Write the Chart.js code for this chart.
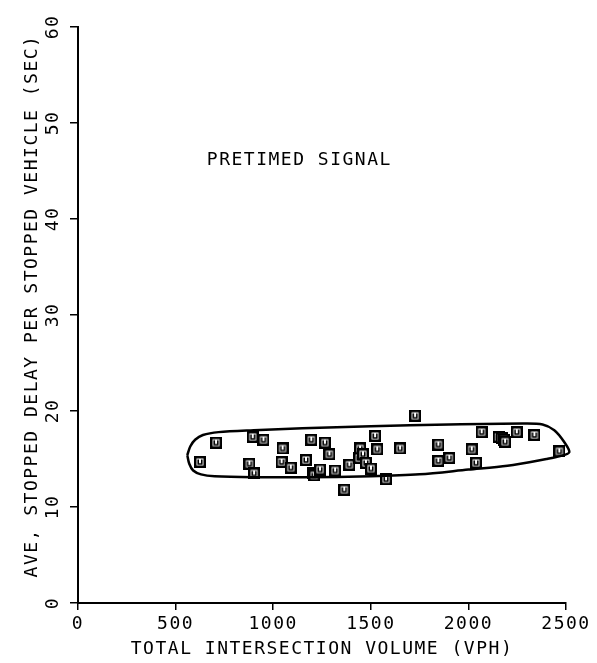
<!DOCTYPE html>
<html>
<head>
<meta charset="utf-8">
<script src="https://cdn.jsdelivr.net/npm/chart.js@4"></script>
<style>
  html, body { margin: 0; padding: 0; background: #fff; }
  #wrap { width: 597px; height: 663px; }
</style>
</head>
<body>
<div id="wrap"><canvas id="delayChart" width="597" height="663"></canvas></div>
<script>
// observed intersections (volume vph, stopped delay sec)
const volume = [625, 707, 878, 895, 902, 950, 1043, 1048, 1090, 1168, 1195, 1202, 1210, 1240, 1265, 1288, 1317,
  1364, 1390, 1441, 1445, 1460, 1475, 1501, 1522, 1533, 1578, 1650, 1727, 1846, 1846, 1902, 2017, 2039, 2068,
  2155, 2170, 2180, 2188, 2248, 2338, 2466];
const delay = [14.7, 16.7, 14.5, 17.3, 13.5, 17.0, 14.7, 16.1, 14.1, 14.9, 17.0, 13.5, 13.3, 13.9, 16.7, 15.5, 13.8,
  11.8, 14.4, 15.1, 16.1, 15.5, 14.6, 14.0, 17.4, 16.0, 12.9, 16.1, 19.5, 16.5, 14.8, 15.1, 16.0, 14.6, 17.8,
  17.3, 17.2, 17.0, 16.8, 17.8, 17.5, 15.8];

// hand drawn envelope round the points
const envX = [560, 575, 600, 640, 720, 900, 1150, 1500, 1900, 2280, 2380, 2440, 2490, 2517, 2470, 2400, 2200, 2000,
  1750, 1500, 1150, 900, 700, 630, 590, 570, 560];
const envY = [15.4, 16.3, 17.0, 17.5, 17.8, 18.0, 18.2, 18.4, 18.6, 18.7, 18.6, 18.0, 16.8, 15.7, 15.3, 15.0, 14.3, 13.9,
  13.4, 13.2, 13.1, 13.1, 13.2, 13.4, 13.8, 14.5, 15.4];

const xTicks = [0, 500, 1000, 1500, 2000, 2500];
const yTicks = [0, 10, 20, 30, 40, 50, 60];

const FONT = '"DejaVu Sans Mono", "Liberation Mono", monospace';

// square marker with a little U inside, like the plotter symbol
function makeMarker() {
  const c = document.createElement('canvas');
  c.width = 12; c.height = 12;
  const g = c.getContext('2d');
  g.fillStyle = '#fff';
  g.fillRect(0, 0, 12, 12);
  g.strokeStyle = '#000';
  g.lineWidth = 2.5;
  g.strokeRect(1.25, 1.25, 9.5, 9.5);
  g.lineWidth = 1.6;
  g.beginPath();
  g.moveTo(4.2, 3.5);
  g.lineTo(4.2, 8);
  g.lineTo(7.8, 8);
  g.lineTo(7.8, 3.5);
  g.stroke();
  return c;
}

const pts = volume.map((v, i) => ({ x: v, y: delay[i] }));
const env = envX.map((v, i) => ({ x: v, y: envY[i] }));

const textPlugin = {
  id: 'plotterText',
  beforeDraw(chart) {
    chart.ctx.letterSpacing = '1.5px';
  },
  afterDraw(chart) {
    const ctx = chart.ctx;
    const ys = chart.scales.y;
    const xs = chart.scales.x;
    ctx.save();
    ctx.letterSpacing = '1.5px';
    ctx.fillStyle = '#000';
    ctx.font = '18px ' + FONT;
    ctx.textAlign = 'center';
    ctx.textBaseline = 'middle';
    // rotated y tick labels
    yTicks.forEach(t => {
      ctx.save();
      ctx.translate(53, ys.getPixelForValue(t));
      ctx.rotate(-Math.PI / 2);
      ctx.fillText(String(t), 0, 0);
      ctx.restore();
    });
    // y title
    ctx.save();
    ctx.translate(32, 306);
    ctx.rotate(-Math.PI / 2);
    ctx.fillText('AVE, STOPPED DELAY PER STOPPED VEHICLE (SEC)', 0, 0);
    ctx.restore();
    // annotation
    ctx.textAlign = 'left';
    ctx.fillText('PRETIMED SIGNAL', xs.getPixelForValue(660), ys.getPixelForValue(46.1));
    ctx.restore();
  }
};

new Chart(document.getElementById('delayChart'), {
  type: 'scatter',
  data: {
    datasets: [
      {
        label: 'envelope',
        type: 'line',
        data: env,
        borderColor: '#000',
        borderWidth: 2.5,
        pointRadius: 0,
        tension: 0.3,
        fill: false,
        clip: false
      },
      {
        label: 'sites',
        data: pts,
        pointStyle: makeMarker(),
        pointRadius: 6
      }
    ]
  },
  options: {
    responsive: false,
    animation: false,
    events: [],
    layout: { padding: { left: 0, top: 27, right: 31, bottom: 0 } },
    plugins: { legend: { display: false }, tooltip: { enabled: false } },
    scales: {
      x: {
        type: 'linear',
        min: 0,
        max: 2500,
        afterFit: s => { s.height = 60; },
        afterBuildTicks: s => { s.ticks = xTicks.map(v => ({ value: v })); },
        ticks: {
          color: '#000',
          font: { family: FONT, size: 18 },
          padding: 4,
          maxRotation: 0,
          callback: v => String(v)
        },
        grid: { drawOnChartArea: false, color: '#000', lineWidth: 1.5, tickLength: 7 },
        border: { color: '#000', width: 2 },
        title: {
          display: true,
          text: 'TOTAL INTERSECTION VOLUME (VPH)',
          color: '#000',
          font: { family: FONT, size: 18 },
          padding: { top: 0, bottom: 3 }
        }
      },
      y: {
        type: 'linear',
        min: 0,
        max: 60,
        afterFit: s => { s.width = 78; },
        afterBuildTicks: s => { s.ticks = yTicks.map(v => ({ value: v })); },
        ticks: { display: false },
        grid: { drawOnChartArea: false, color: '#000', lineWidth: 1.5, tickLength: 8 },
        border: { color: '#000', width: 2 }
      }
    }
  },
  plugins: [textPlugin]
});
</script>
</body>
</html>
